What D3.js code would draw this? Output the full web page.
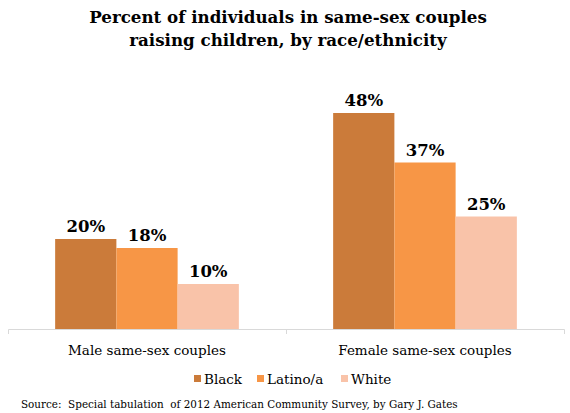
<!DOCTYPE html>
<html><head><meta charset="utf-8">
<script src="https://cdn.jsdelivr.net/npm/d3@7"></script>
<style>body{margin:0;background:#fff}svg{display:block}</style>
</head><body>
<script>
const categories = ["Male same-sex couples", "Female same-sex couples"];
const seriesNames = ["Black", "Latino/a", "White"];
const black = [20, 48];
const latino = [18, 37];
const white = [10, 25];
const seriesValues = [black, latino, white];
const colors = ["#CB7B3A", "#F79646", "#F9C3A9"];
const titleLines = ["Percent of individuals in same-sex couples", "raising children, by race/ethnicity"];
const sourceText = "Source:  Special tabulation  of 2012 American Community Survey, by Gary J. Gates";

const W = 570, H = 413;
const svg = d3.select("body").append("svg").attr("width", W).attr("height", H);
const serif = "Georgia, 'DejaVu Serif', serif";

svg.selectAll("text.title").data(titleLines).join("text")
  .attr("x", 288).attr("y", (d, i) => 23 + i * 23)
  .attr("text-anchor", "middle").attr("font-family", serif)
  .attr("font-weight", "bold").attr("font-size", 16.7).attr("fill", "#000")
  .text(d => d);

const x0 = d3.scaleBand().domain(categories).range([8, 564]).paddingInner(0).paddingOuter(0);
const x1 = d3.scaleBand().domain(seriesNames).range([0, x0.bandwidth()]).paddingInner(0).paddingOuter(0.77);
const y = d3.scaleLinear().domain([0, 50]).range([329, 104]);

const g = svg.append("g");
categories.forEach((c, ci) => {
  seriesNames.forEach((s, si) => {
    const v = seriesValues[si][ci];
    const bx = x0(c) + x1(s);
    g.append("rect").attr("x", bx).attr("y", y(v)).attr("width", x1.bandwidth())
      .attr("height", y(0) - y(v)).attr("fill", colors[si]);
    g.append("text").attr("x", bx + x1.bandwidth() / 2).attr("y", y(v) - 7)
      .attr("text-anchor", "middle").attr("font-family", serif).attr("font-weight", "bold")
      .attr("font-size", 16.5).attr("fill", "#000").text(v + "%");
  });
});

// axis
const axis = d3.axisBottom(x0).tickSize(0).tickFormat("");
const ag = svg.append("g").attr("transform", "translate(0,329)").call(axis);
ag.select(".domain").attr("stroke", "#D9D9D9").attr("d", "M8.5,5V0.5H564.5V5");
ag.append("line").attr("x1", x0.step() + 8.5).attr("x2", x0.step() + 8.5).attr("y1", 0).attr("y2", 5).attr("stroke", "#D9D9D9");
svg.selectAll("text.cat").data(categories).join("text")
  .attr("x", d => x0(d) + x1.range()[1] / 2).attr("y", 355)
  .attr("text-anchor", "middle").attr("font-family", serif).attr("font-size", 13.5).attr("fill", "#000")
  .text(d => d);

// legend
const legX = [194, 257, 341];
const lg = svg.append("g");
seriesNames.forEach((s, i) => {
  lg.append("rect").attr("x", legX[i]).attr("y", 375).attr("width", 7).attr("height", 7).attr("fill", colors[i]);
  lg.append("text").attr("x", legX[i] + 10).attr("y", 384).attr("font-family", serif)
    .attr("font-size", 13.5).attr("fill", "#000").text(s);
});

svg.append("text").attr("x", 21).attr("y", 408).attr("font-family", serif).attr("font-size", 10.4)
  .style("white-space", "pre").attr("fill", "#000").text(sourceText);
</script>
</body></html>
